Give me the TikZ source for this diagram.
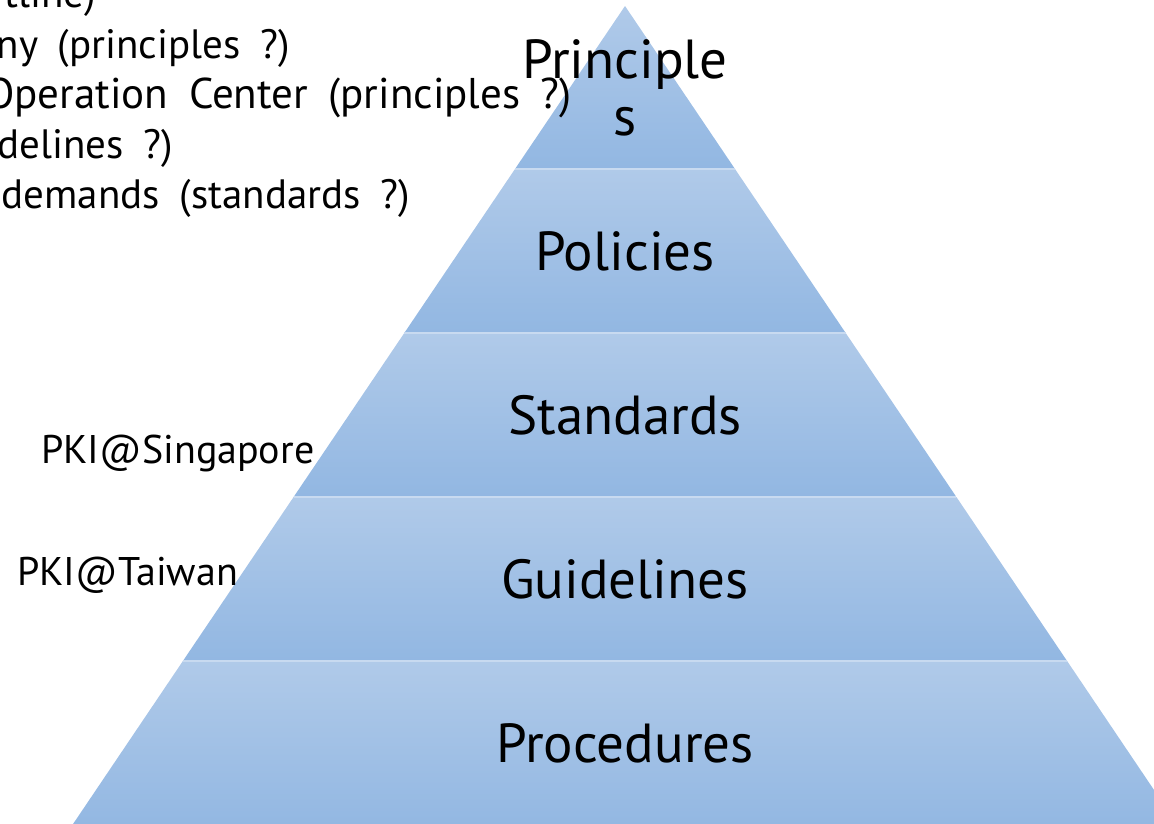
\documentclass[tikz,border=0pt]{standalone}
\usepackage{fontspec}
\setmainfont{PT Sans}
\newfontfamily\sidefont[WordSpace=1.8]{PT Sans}
\definecolor{tiertop}{RGB}{176,202,233}
\definecolor{tierbot}{RGB}{146,183,226}
\definecolor{tiersep}{RGB}{200,218,240}
\tikzset{
  tier/.style={top color=tiertop, bottom color=tierbot, draw=none},
  sepline/.style={draw=tiersep, line width=1.2pt},
  biglabel/.style={font=\fontsize{55}{57}\selectfont, text=black, inner sep=0pt, anchor=base},
  sidelabel/.style={font=\sidefont\fontsize{41}{41}\selectfont, text=black, inner sep=0pt, anchor=base east},
  pkilabel/.style={font=\fontsize{40}{40}\selectfont, text=black, inner sep=0pt, anchor=base west},
}
\begin{document}
\begin{tikzpicture}[x=1pt,y=-1pt]
\useasboundingbox (0,0) rectangle (1154,823);
\clip (0,0) rectangle (1154,823);
% pyramid tiers
\shade[tier] (625,6) -- (735,169) -- (515,169) -- cycle;
\shade[tier] (515,169) -- (735,169) -- (845.7,333) -- (404.3,333) -- cycle;
\shade[tier] (404.3,333) -- (845.7,333) -- (956.4,497) -- (293.6,497) -- cycle;
\shade[tier] (293.6,497) -- (956.4,497) -- (1067.1,661) -- (182.9,661) -- cycle;
\shade[tier] (182.9,661) -- (1067.1,661) -- (1181,830) -- (69,830) -- cycle;
\draw[sepline] (515,169) -- (735,169);
\draw[sepline] (404.3,333) -- (845.7,333);
\draw[sepline] (293.6,497) -- (956.4,497);
\draw[sepline] (182.9,661) -- (1067.1,661);
% tier labels
\node[biglabel] (principles1) at (625,78) {Principle};
\node[biglabel] (principles2) at (625,135) {s};
\node[biglabel] (policies) at (625,270) {Policies};
\node[biglabel] (standards) at (625,434) {Standards};
\node[biglabel] (guidelines) at (625,598) {Guidelines};
\node[biglabel] (procedures) at (625,762) {Procedures};
% side texts
\node[sidelabel] (l1) at (96,7) {tline)};
\node[sidelabel] (l2) at (290,58) {ny (principles ?)};
\node[sidelabel, font=\sidefont\fontsize{43}{43}\selectfont] (l3) at (572,108) {Operation Center (principles ?)};
\node[sidelabel] (l4) at (173,158) {delines ?)};
\node[sidelabel] (l5) at (410,208) {demands (standards ?)};
\node[pkilabel] (sg) at (41,463) {PKI@Singapore};
\node[pkilabel] (tw) at (17,585) {PKI@Taiwan};
\end{tikzpicture}
\end{document}
